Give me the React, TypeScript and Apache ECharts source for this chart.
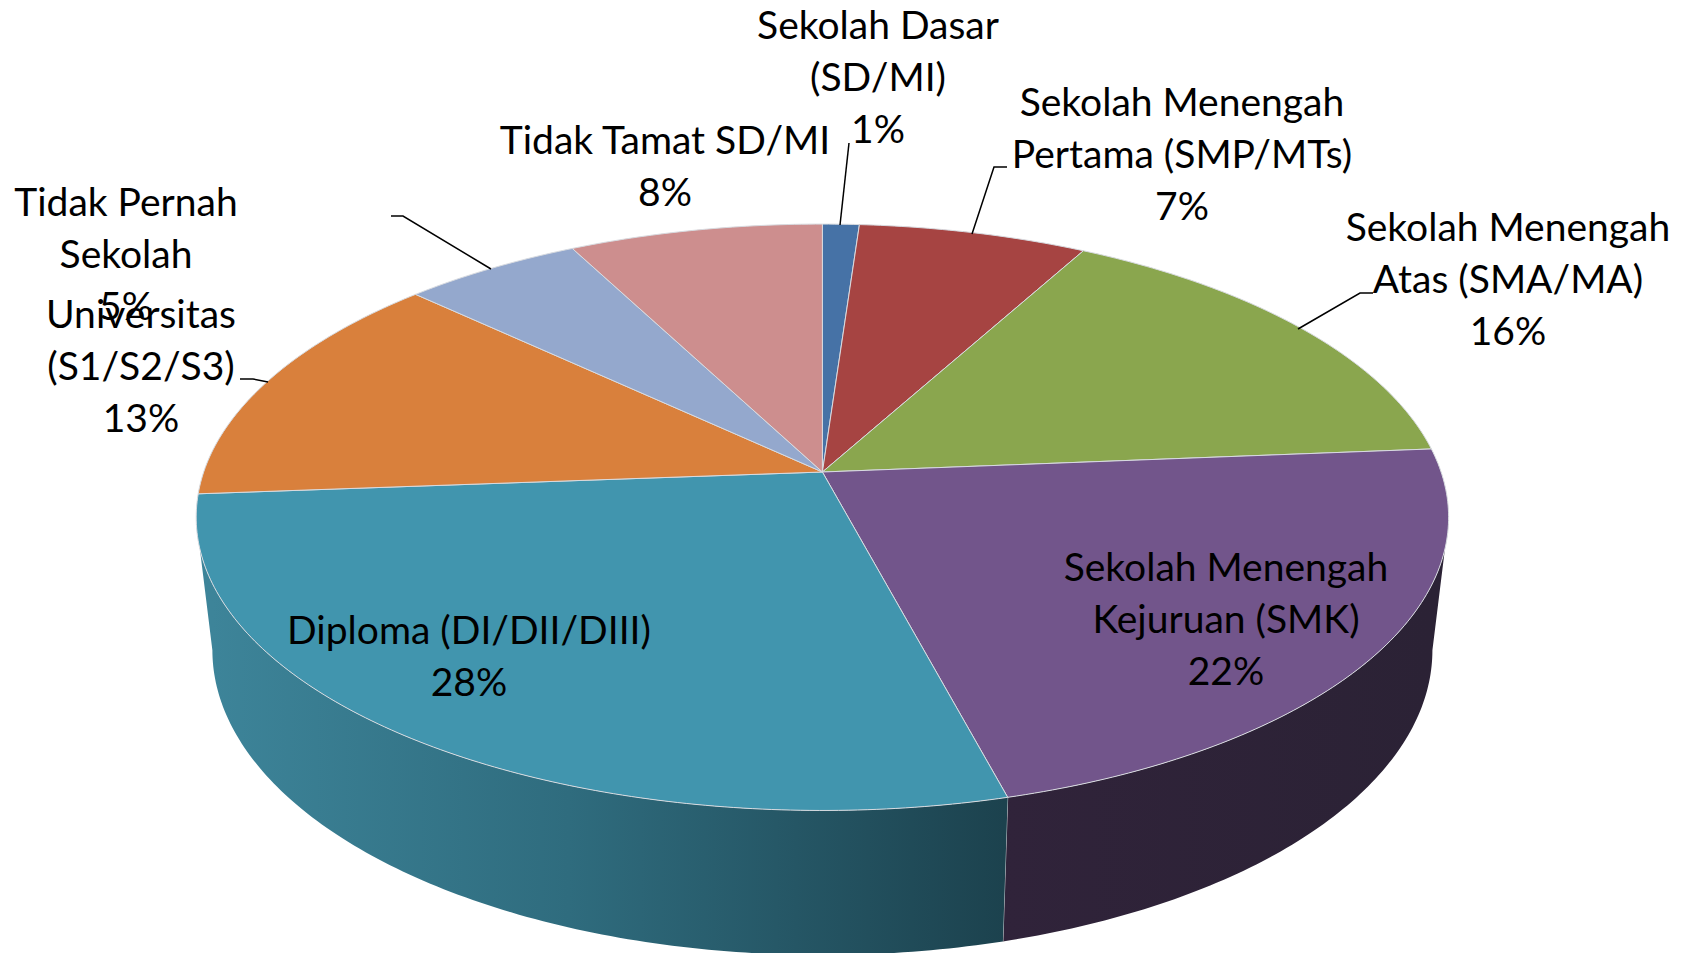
import React, { useEffect, useRef } from "react";
import * as echarts from "echarts";

const categories = [
  "Sekolah Dasar\n(SD/MI)",
  "Sekolah Menengah\nPertama (SMP/MTs)",
  "Sekolah Menengah\nAtas (SMA/MA)",
  "Sekolah Menengah\nKejuruan (SMK)",
  "Diploma (DI/DII/DIII)",
  "Universitas\n(S1/S2/S3)",
  "Tidak Pernah\nSekolah",
  "Tidak Tamat SD/MI",
];
const values = [1.1, 6.85, 15.75, 22.2, 27.9, 13.24, 5.36, 7.6];
const topColours = ["#4672a6", "#a64442", "#8aa64e", "#72558b", "#4195ae", "#d9803c", "#94a8cd", "#cd8e8e"];

// label anchor: centre x, centre y of first line
const labelAnchors = [
  [878, 24],
  [1182, 101],
  [1508, 226],
  [1226, 566],
  [469, 629],
  [141, 313],
  [126, 201],
  [665, 139],
];
const leaderLines = [
  [[849, 143], [840, 225]],
  [[1007, 167], [994, 167], [972, 234]],
  [[1373, 293], [1360, 293], [1298, 329]],
  [[391, 216], [403, 216], [491, 269]],
  [[240, 379], [253, 379], [268, 382]],
];

const FONT = "Lato, Carlito, Calibri, sans-serif";
const FONT_SIZE = 39;
const LINE_H = 52;

// perspective-disc model of the top and bottom faces
const K = 0.1544;
const TOP = { cx: 822.4, cy: 472, a: 618.7, b: 286.2 };
const BOTTOM = { cx: 822.4, cy: 603, a: 602.7, b: 297.7 };
const TOP_VIS: [number, number] = [105, 255];
const BOT_VIS: [number, number] = [98.9, 261.1];

function rim(deg: number, f: typeof TOP): number[] {
  const t = (deg * Math.PI) / 180;
  const u = Math.sin(t);
  const v = -Math.cos(t);
  const w = 1 - K * v;
  return [f.cx + (f.a * u) / w, f.cy + (f.b * v) / w];
}
function arc(from: number, to: number, f: typeof TOP): number[][] {
  const pts: number[][] = [];
  const n = Math.max(1, Math.ceil(Math.abs(to - from) / 0.75));
  for (let i = 0; i <= n; i++) pts.push(rim(from + ((to - from) * i) / n, f));
  return pts;
}

const total = values.reduce((a, b) => a + b, 0);
const startAngles: number[] = [];
values.reduce((acc, v, i) => {
  startAngles[i] = (acc / total) * 360;
  return acc + v;
}, 0);
const angleRange = (i: number): [number, number] => [startAngles[i], startAngles[i] + (values[i] / total) * 360];

const sideFill = (i: number) => {
  if (i === 3)
    return new echarts.graphic.LinearGradient(1004, 0, 1432, 0, [
      { offset: 0, color: "#30233a" },
      { offset: 1, color: "#2b2235" },
    ], true);
  return new echarts.graphic.LinearGradient(212, 0, 1004, 0, [
    { offset: 0, color: "#3d8499" },
    { offset: 0.45, color: "#2f6c7e" },
    { offset: 1, color: "#1c424e" },
  ], true);
};

export default function App() {
  const ref = useRef<HTMLDivElement>(null);
  useEffect(() => {
    const chart = echarts.init(ref.current!, undefined, { renderer: "svg" });
    const renderSide = (params: any) => {
      const i = params.dataIndex;
      const [a0, a1] = angleRange(i);
      if (a1 <= TOP_VIS[0] || a0 >= TOP_VIS[1]) return { type: "group", children: [] };
      const t0 = Math.max(a0, TOP_VIS[0]);
      const t1 = Math.min(a1, TOP_VIS[1]);
      const b0 = Math.max(a0, BOT_VIS[0]);
      const b1 = Math.min(a1, BOT_VIS[1]);
      const points = [...arc(t0, t1, TOP), ...arc(b1, b0, BOTTOM)];
      const children: any[] = [
        { type: "polygon", shape: { points }, style: { fill: sideFill(i) } },
      ];
      if (a1 < TOP_VIS[1]) {
        const p = rim(a1, TOP);
        const q = rim(a1, BOTTOM);
        children.push({
          type: "line",
          shape: { x1: p[0], y1: p[1], x2: q[0], y2: q[1] },
          style: { stroke: "#c9cdd0", lineWidth: 1 },
        });
      }
      return { type: "group", children };
    };
    const renderTop = (params: any) => {
      const i = params.dataIndex;
      const [a0, a1] = angleRange(i);
      const points = [[TOP.cx, TOP.cy], ...arc(a0, a1, TOP)];
      return {
        type: "polygon",
        shape: { points },
        style: { fill: topColours[i], stroke: "#d8dbe0", lineWidth: 1 },
      };
    };
    const labels = categories.map((c, i) => ({
      type: "text",
      x: labelAnchors[i][0],
      y: labelAnchors[i][1] - LINE_H / 2,
      silent: true,
      z: 10,
      style: {
        text: `${c}\n${Math.round((values[i] / total) * 100)}%`,
        fontFamily: FONT,
        fontSize: FONT_SIZE,
        lineHeight: LINE_H,
        fill: "#000",
        align: "center",
        verticalAlign: "top",
      },
    }));
    const leaders = leaderLines.map((points) => ({
      type: "polyline",
      silent: true,
      z: 9,
      shape: { points },
      style: { stroke: "#000", lineWidth: 1.5, fill: "none" },
    }));
    chart.setOption({
      animation: false,
      backgroundColor: "#fff",
      tooltip: { show: false },
      series: [
        {
          type: "custom",
          name: "sides",
          coordinateSystem: "none",
          silent: true,
          z: 1,
          data: values.map((v) => [v]),
          renderItem: renderSide,
        },
        {
          type: "custom",
          name: "tops",
          coordinateSystem: "none",
          silent: true,
          z: 2,
          data: values.map((v) => [v]),
          renderItem: renderTop,
        },
      ],
      graphic: { elements: [...leaders, ...labels] },
    });
    return () => chart.dispose();
  }, []);
  return (
    <div
      ref={ref}
      style={{ position: "absolute", left: 0, top: 0, width: 1690, height: 953 }}
    />
  );
}
